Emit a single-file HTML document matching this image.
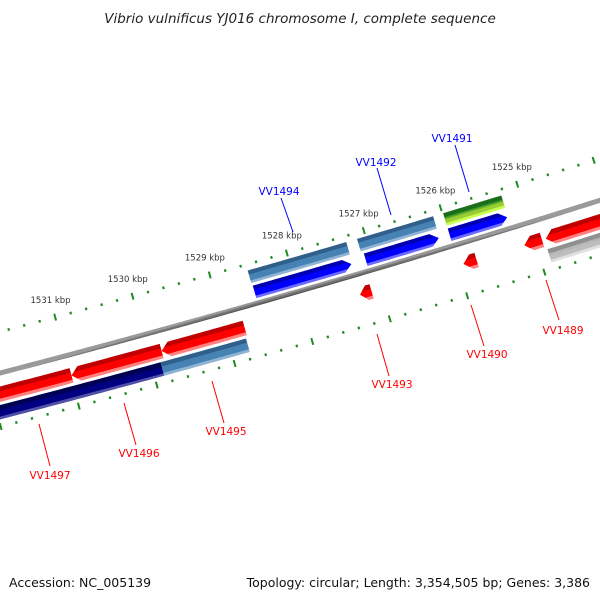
<!DOCTYPE html>
<html><head><meta charset="utf-8"><style>
html,body{margin:0;padding:0;background:#fff;}
svg{display:block;font-family:"DejaVu Sans","Liberation Sans",sans-serif;}
</style></head><body>
<svg id="map" width="600" height="600" viewBox="0 0 600 600" xmlns="http://www.w3.org/2000/svg">
<text x="300" y="23" text-anchor="middle" font-size="13.5" font-style="italic" fill="#222">Vibrio vulnificus YJ016 chromosome I, complete sequence</text>
<g id="layer"></g>
<text x="9" y="587" font-size="12.5" fill="#111">Accession: NC_005139</text>
<text x="590" y="587" text-anchor="end" font-size="12.5" fill="#111">Topology: circular; Length: 3,354,505 bp; Genes: 3,386</text>
</svg>
<script>
// ---- data (kbp) ----
const geneNames  = ['VV1497','VV1496r','VV1495r','VV1489r','VV1493s','VV1490s','VV1489s','VV1496n','VV1495b','VV1489g','VV1494','VV1492','VV1491','VV1494b','VV1492b','VV1491g'];
const geneStart  = [1532.6,1530.99,1529.83,1524.86,1527.27,1525.93,1525.14,1532.6,1529.88,1524.88,1528.52,1527.08,1525.99,1528.53,1527.11,1525.99];
const geneEnd    = [1530.99,1529.83,1528.76,1523.3,1527.12,1525.76,1524.91,1529.88,1528.78,1523.3,1527.265,1526.13,1525.24,1527.25,1526.12,1525.23];
const geneTrack  = [1,1,1,1,1,1,1,2,2,2,-1,-1,-1,-2,-2,-2];
const geneColor  = ['red','red','red','red','red','red','red','navy','steel','gray','blue','blue','blue','steel','steel','green'];
const geneArrow  = ['left','left','left','left','left','left','left','none','none','none','right','right','right','none','none','none'];
const majorTicks = [1525,1526,1527,1528,1529,1530,1531,1532];
const tickLabels = ['1525 kbp','1526 kbp','1527 kbp','1528 kbp','1529 kbp','1530 kbp','1531 kbp','1532 kbp'];
const labelText  = ['VV1497','VV1496','VV1495','VV1493','VV1490','VV1489','VV1494','VV1492','VV1491'];
const labelColor = ['red','red','red','red','red','red','blue','blue','blue'];
const labelPos   = [[50,479],[139,457],[226,435],[392,388],[487,358],[563,334],[279,195],[376,166],[452,142]];
const leaderFrom = [[39,424],[124,403],[212,381],[377,334],[471,305],[546,280],[293,232],[391,215],[469,192]];
const leaderTo   = [[50,466],[136,445],[224,423],[389,376],[484,346],[559,320],[281,198],[377,168],[455,145]];

// ---- geometry ----
const R = 12000, K = 80.4 / R, P0 = 1529;
const AX = 221, AY = 315, NX = 0.270, NY = 0.963;
const CX = AX - R*NX, CY = AY - R*NY, PHI0 = Math.atan2(NY, NX);
function pt(p, d){ const f = PHI0 + (p - P0)*K, r = R + d; return [CX + r*Math.cos(f), CY + r*Math.sin(f)]; }
const trackD = {'-2':[-34,-21],'-1':[-18,-5],'0':[-2.5,2.5],'1':[13,28],'2':[31,45]};
const palette = {
  red:['#c00000','#ff0000','#ff0000','#ff8080'],
  blue:['#0000b0','#0000ff','#0000ff','#6a6aff'],
  steel:['#2f5f8a','#4682b4','#4682b4','#8fb3d3'],
  navy:['#000050','#000080','#000080','#5050a8'],
  gray:['#909090','#b4b4b4','#bebebe','#e0e0e0'],
  green:['#1a6e1a','#228b22','#9acd32','#c6ff50'],
  bb:['#9a9a9a','#8a8a8a','#707070','#505050']
};
const NS = 'http://www.w3.org/2000/svg';
const layer = document.getElementById('layer');
const defs = document.createElementNS(NS,'defs'); layer.appendChild(defs);
let gid = 0;
function arcPts(pa, pb, d){ const out=[]; const n=Math.max(2,Math.ceil(Math.abs(pa-pb)/0.05)); for(let i=0;i<=n;i++){ out.push(pt(pa+(pb-pa)*i/n, d)); } return out; }
function shapePath(p1, p2, d1, d2, arrow){
  const tl = Math.min(0.1, Math.abs(p1-p2)*0.6), dm=(d1+d2)/2;
  let pts=[];
  if(arrow==='right'){ pts = arcPts(p1,p2+tl,d1).concat([pt(p2,dm)], arcPts(p2+tl,p1,d2)); }
  else if(arrow==='left'){ pts = [pt(p1,dm)].concat(arcPts(p1-tl,p2,d1), arcPts(p2,p1-tl,d2)); }
  else { pts = arcPts(p1,p2,d1).concat(arcPts(p2,p1,d2)); }
  return 'M'+pts.map(q=>q[0].toFixed(2)+','+q[1].toFixed(2)).join('L')+'Z';
}
function grad(pm, d1, d2, cols){
  const g = document.createElementNS(NS,'linearGradient'); const id='g'+(gid++);
  g.setAttribute('id',id); g.setAttribute('gradientUnits','userSpaceOnUse');
  const a=pt(pm,d1), b=pt(pm,d2);
  g.setAttribute('x1',a[0]); g.setAttribute('y1',a[1]); g.setAttribute('x2',b[0]); g.setAttribute('y2',b[1]);
  [[0,0],[0.3,0],[0.32,1],[0.55,2],[0.78,2],[0.8,3],[1,3]].forEach(s=>{ const st=document.createElementNS(NS,'stop'); st.setAttribute('offset',s[0]); st.setAttribute('stop-color',cols[s[1]]); g.appendChild(st); });
  defs.appendChild(g); return id;
}
// backbone
{
  const d=trackD['0']; const path=document.createElementNS(NS,'path');
  path.setAttribute('d', shapePath(1534,1522,d[0],d[1],'none'));
  path.setAttribute('fill','url(#'+grad(1528,d[0],d[1],palette.bb)+')');
  
  
  layer.appendChild(path);
}
// genes
for(let i=0;i<geneNames.length;i++){
  const d=trackD[String(geneTrack[i])];
  const path=document.createElementNS(NS,'path');
  path.setAttribute('d', shapePath(geneStart[i],geneEnd[i],d[0],d[1],geneArrow[i]));
  path.setAttribute('fill','url(#'+grad((geneStart[i]+geneEnd[i])/2,d[0],d[1],palette[geneColor[i]])+')');
  
  
  layer.appendChild(path);
}
// ticks
const tickRings=[-40,52];
tickRings.forEach((rd,ri)=>{
  for(let k=0;k<=55;k++){
    const p = 1523 + k*0.2; const major = Math.abs(p-Math.round(p))<0.01;
    const len = major?3.5:1.3;
    const a=pt(p,rd-len), b=pt(p,rd+len);
    const ln=document.createElementNS(NS,'line');
    ln.setAttribute('x1',a[0]); ln.setAttribute('y1',a[1]); ln.setAttribute('x2',b[0]); ln.setAttribute('y2',b[1]);
    ln.setAttribute('stroke','#1f8a1f'); ln.setAttribute('stroke-width', major?2:2.2);
    
    
    layer.appendChild(ln);
  }
});
majorTicks.forEach((p,i)=>{
  const q=pt(p,-58); const t=document.createElementNS(NS,'text');
  t.setAttribute('x',q[0]); t.setAttribute('y',q[1]+3); t.setAttribute('text-anchor','middle');
  t.setAttribute('font-size','8.5'); t.setAttribute('fill','#333'); t.textContent=tickLabels[i];
  
  
  layer.appendChild(t);
});
// labels
labelText.forEach((s,i)=>{
  const ln=document.createElementNS(NS,'line');
  ln.setAttribute('x1',leaderFrom[i][0]); ln.setAttribute('y1',leaderFrom[i][1]);
  ln.setAttribute('x2',leaderTo[i][0]); ln.setAttribute('y2',leaderTo[i][1]);
  ln.setAttribute('stroke',labelColor[i]); ln.setAttribute('stroke-width','1');
  
  
  layer.appendChild(ln);
  const t=document.createElementNS(NS,'text');
  t.setAttribute('x',labelPos[i][0]); t.setAttribute('y',labelPos[i][1]); t.setAttribute('text-anchor','middle');
  t.setAttribute('font-size','10.5'); t.setAttribute('fill',labelColor[i]); t.textContent=s;
  
  
  layer.appendChild(t);
});
</script>
</body></html>
